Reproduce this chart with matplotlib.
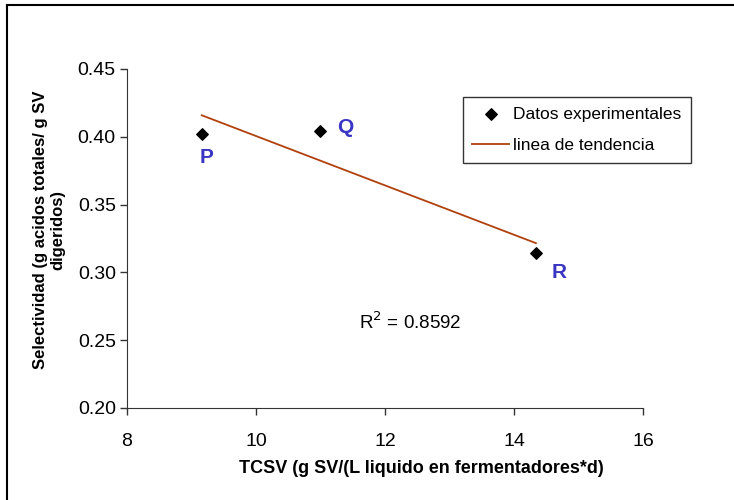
import matplotlib
matplotlib.use("Agg")
import matplotlib.pyplot as plt
import numpy as np
from matplotlib.lines import Line2D

plt.rcParams["font.family"] = ["Liberation Sans", "DejaVu Sans"]

# experimental points
tcsv = [9.16, 10.99, 14.34]
selectividad = [0.402, 0.404, 0.314]
point_names = ["P", "Q", "R"]
name_x = [9.24, 11.38, 14.70]
name_y = [0.385, 0.407, 0.300]
r2_text = "R$^2$ = 0.8592"

fig = plt.figure(figsize=(7.34, 5.0), dpi=100)
ax = fig.add_axes([0.173, 0.184, 0.703, 0.678])

# outer frame (only top and left visible in the original)
fig.add_artist(Line2D([0.0095, 1.0], [0.99, 0.99], color="black", lw=1.5,
                      transform=fig.transFigure))
fig.add_artist(Line2D([0.0095, 0.0095], [0.0, 0.99], color="black", lw=1.5,
                      transform=fig.transFigure))

ax.scatter(tcsv, selectividad, marker="D", s=34, c="black", zorder=3,
           label="Datos experimentales")

poly = np.polyfit(tcsv, selectividad, 1)
f = np.poly1d(poly)
xp = np.array([min(tcsv), max(tcsv)])
ax.plot(xp, f(xp), c="#b0400c", lw=1.3, label="linea de tendencia")

for name, x, y in zip(point_names, name_x, name_y):
    ax.text(x, y, name, color="#3b35c4", fontsize=15, fontweight="bold",
            ha="center", va="center")

ax.text(12.39, 0.263, r2_text, fontsize=13.5, ha="center", va="center")

ax.set_xlim(8, 16)
ax.set_ylim(0.20, 0.45)
ax.set_xticks([8, 10, 12, 14, 16])
ax.set_yticks([0.20, 0.25, 0.30, 0.35, 0.40, 0.45])
ax.set_yticklabels(["%.2f" % v for v in ax.get_yticks()])
ax.spines["top"].set_visible(False)
ax.spines["right"].set_visible(False)
for s in ["left", "bottom"]:
    ax.spines[s].set_color("#333333")
ax.tick_params(direction="out", length=5, width=1, colors="#333333",
               labelcolor="black", labelsize=14)
ax.tick_params(axis="x", pad=13)
ax.tick_params(axis="y", pad=3)

ax.set_xlabel("TCSV (g SV/(L liquido en fermentadores*d)", fontsize=13,
              fontweight="bold")
ax.xaxis.set_label_coords(0.57, -0.153)
ax.set_ylabel("Selectividad (g acidos totales/ g SV\ndigeridos)", fontsize=12,
              fontweight="bold")
ax.yaxis.set_label_coords(-0.12, 0.525)

leg = ax.legend(loc="upper left", bbox_to_anchor=(0.651, 0.917), fontsize=12.5,
                frameon=True, fancybox=False, edgecolor="black",
                handlelength=2.1, handletextpad=0.25, borderpad=0.55,
                labelspacing=0.94, borderaxespad=0)
leg.get_frame().set_linewidth(1.0)

fig.savefig("out.png", dpi=100)
